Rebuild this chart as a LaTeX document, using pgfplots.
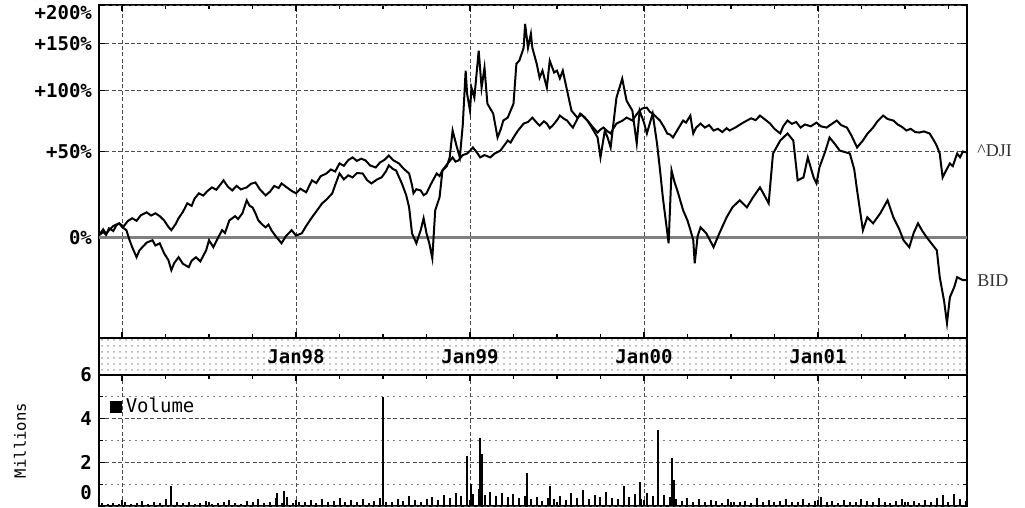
\documentclass[border=0pt]{standalone}
\usepackage{fontspec}
\setmonofont{DejaVu Sans Mono}
\newfontfamily\labelfont{Liberation Serif}
\usepackage{pgfplots}
\pgfplotsset{compat=1.18}
\usetikzlibrary{patterns}

% x = months since Jan 1997, top panel y = % change (log scale of 1+r)
\pgfplotsset{
  panel/.style={
    scale only axis, width=434pt,
    xmin=-1.59, xmax=58.28,
    axis line style={line width=0.8pt},
    tick align=inside,
    major tick length=3pt, minor tick length=2pt,
    tick style={black, line width=0.6pt},
    xtick={0,12,24,36,48},
    minor xtick={3,6,9,15,18,21,27,30,33,39,42,45,51,54,57},
    ticklabel style={font=\ttfamily\bfseries\fontsize{9.5}{10}\selectfont,
      /pgf/number format/assume math mode=true},
    major grid style={black!70, line width=0.4pt, dash pattern=on 2pt off 1.2pt},
    minor grid style={black!50, line width=0.4pt, dash pattern=on 1pt off 2pt},
  }
}

\begin{document}
\begin{tikzpicture}
\path[use as bounding box] (0,0) rectangle (512.5pt,254pt);

\begin{axis}[panel, name=top, at={(49.5pt,251.5pt)}, anchor=north west,
  height=166.5pt, clip=false,
  ymode=log, ymin=0.621, ymax=3,
  ytick={1,1.5,2,2.5},
  yticklabels={0\%,+50\%,+100\%,+150\%},
  minor y tick style={draw=none},
  extra y ticks={3}, extra y tick labels={+200\%},
  extra y tick style={yticklabel style={yshift=-4pt}},
  xticklabels={},
  xmajorgrids, ymajorgrids,
]
% 0% baseline
\addplot[black!50, line width=1.6pt] coordinates {(-1.59,1) (58.28,1)};
% ^DJI
\addplot[black, line width=1pt] table[x index=0, y expr={1+\thisrowno{1}/100}] {
-1.6 0.9
-1.3 2.5
-1.1 1.2
-0.9 4.3
-0.6 3.0
-0.4 5.8
-0.2 6.8
0.1 5.2
0.4 8.0
0.7 9.4
1.0 8.1
1.3 11.0
1.7 12.5
2.0 10.8
2.3 12.0
2.6 10.5
2.9 8.3
3.2 5.0
3.4 3.4
3.7 6.5
3.9 9.4
4.2 12.8
4.5 17.4
4.8 16.0
5.0 20.0
5.3 23.1
5.6 21.8
5.9 24.5
6.2 26.6
6.5 25.2
6.8 28.5
7.0 30.9
7.3 27.0
7.6 24.8
7.9 27.5
8.2 25.4
8.6 26.6
8.9 28.8
9.2 29.6
9.5 25.5
9.9 21.9
10.2 24.0
10.5 27.5
10.8 26.2
11.0 29.0
11.3 27.0
11.7 24.5
12.0 23.1
12.3 25.8
12.7 23.7
13.1 30.9
13.4 29.2
13.7 33.5
14.1 35.2
14.4 37.8
14.7 36.5
15.0 41.8
15.3 40.2
15.6 44.0
15.9 45.9
16.2 43.5
16.5 45.0
16.8 43.8
17.1 40.5
17.5 39.1
17.8 42.5
18.1 44.2
18.4 47.2
18.7 44.0
19.1 41.8
19.4 38.5
19.8 35.2
20.0 28.0
20.1 23.1
20.3 25.5
20.6 24.8
20.8 22.0
21.0 23.1
21.3 28.5
21.7 35.2
21.9 33.6
22.1 37.2
22.4 41.0
22.8 45.9
23.0 43.0
23.2 43.8
23.5 47.5
23.8 48.6
24.0 50.5
24.2 52.9
24.5 49.0
24.7 45.9
25.0 47.5
25.4 45.9
25.7 48.6
26.1 50.7
26.4 55.0
26.6 58.0
26.8 56.5
27.0 60.3
27.3 65.5
27.7 71.2
28.0 72.5
28.3 76.1
28.6 72.0
28.8 69.6
29.1 73.0
29.3 71.2
29.5 67.5
29.7 69.6
30.0 74.0
30.2 77.8
30.5 75.0
30.7 73.7
30.9 70.5
31.1 68.0
31.4 75.0
31.6 79.5
31.9 76.5
32.1 73.7
32.5 68.0
32.8 64.1
33.0 66.5
33.2 68.0
33.5 65.0
33.7 63.4
33.9 67.5
34.1 71.2
34.5 73.5
34.8 76.1
35.0 75.0
35.2 73.7
35.5 79.0
35.7 82.0
35.9 84.0
36.2 84.6
36.4 81.0
36.6 79.5
36.9 76.0
37.1 73.7
37.4 68.0
37.6 63.4
37.8 62.5
38.0 60.3
38.3 66.0
38.7 73.7
38.9 72.0
39.2 77.8
39.3 70.0
39.4 63.4
39.6 68.0
39.9 71.2
40.2 68.0
40.5 70.0
40.8 65.7
41.1 67.0
41.4 64.5
41.7 67.5
41.9 65.7
42.3 68.0
42.7 71.0
43.1 73.7
43.4 75.5
43.7 74.0
44.0 77.8
44.3 75.0
44.7 71.2
45.0 67.0
45.4 63.4
45.6 69.0
45.9 73.7
46.2 71.0
46.5 72.5
46.8 68.0
47.1 70.5
47.5 69.0
47.9 72.0
48.2 69.0
48.6 68.0
48.9 70.5
49.3 73.7
49.6 70.0
50.0 68.0
50.3 62.0
50.7 52.9
50.9 55.5
51.1 58.0
51.4 63.0
51.8 68.0
52.1 73.0
52.5 77.8
52.8 75.0
53.2 73.7
53.5 70.5
53.8 68.5
54.1 65.7
54.4 67.0
54.7 64.5
55.0 64.1
55.3 65.0
55.7 63.4
56.0 58.0
56.2 54.0
56.4 48.6
56.6 32.7
56.8 36.5
57.1 41.8
57.3 40.0
57.6 48.6
57.8 46.0
58.0 50.0
58.28 49.3
};
% BID
\addplot[black, line width=1pt] table[x index=0, y expr={1+\thisrowno{1}/100}] {
-1.6 0.9
-1.3 3.8
-1.1 1.5
-0.9 3.4
-0.6 5.5
-0.2 6.8
0.0 5.0
0.3 3.4
0.5 -1.0
0.7 -4.6
1.0 -9.0
1.2 -6.0
1.4 -4.6
1.7 -2.5
2.1 -1.4
2.3 -3.8
2.6 -2.8
2.9 -7.3
3.2 -10.3
3.4 -14.4
3.6 -11.5
3.9 -9.0
4.2 -11.8
4.6 -13.2
4.8 -10.5
5.1 -9.0
5.4 -10.8
5.8 -6.0
6.0 -1.4
6.3 -4.6
6.6 -0.5
6.9 3.4
7.1 2.0
7.4 8.3
7.8 10.5
8.0 9.0
8.3 12.0
8.6 19.1
8.8 16.0
9.0 15.2
9.2 12.0
9.4 8.3
9.7 6.0
9.9 4.8
10.1 6.2
10.3 3.4
10.6 0.5
11.0 -2.8
11.3 0.5
11.7 3.4
12.0 0.8
12.4 1.9
12.7 5.5
13.1 9.9
13.4 13.0
13.8 17.4
14.1 19.5
14.5 23.1
14.7 28.0
15.0 35.2
15.3 31.5
15.6 34.0
15.9 32.7
16.2 35.5
16.6 35.2
16.9 31.0
17.2 29.0
17.6 31.5
17.9 32.7
18.2 36.5
18.4 40.5
18.7 38.0
18.9 37.2
19.1 33.0
19.3 29.0
19.6 22.0
19.8 15.2
20.0 1.9
20.3 -2.8
20.6 3.4
20.8 9.4
21.0 1.9
21.2 -3.0
21.4 -9.5
21.6 13.6
21.9 20.8
22.1 37.2
22.4 40.0
22.6 45.9
22.8 65.7
23.1 52.9
23.3 45.9
23.5 70.0
23.7 119.9
23.8 97.2
24.0 82.0
24.1 102.9
24.3 93.5
24.6 141.6
24.8 102.9
25.0 123.0
25.2 88.1
25.6 79.5
25.9 60.3
26.1 66.0
26.3 73.7
26.6 76.1
27.0 88.1
27.2 127.2
27.4 130.5
27.7 145.0
27.8 174.4
28.0 145.0
28.2 161.8
28.3 145.0
28.6 127.2
28.8 112.7
29.0 119.9
29.3 102.9
29.5 130.5
29.8 118.0
30.0 119.9
30.2 112.0
30.4 119.9
30.7 100.0
31.0 82.0
31.4 76.1
31.7 78.5
32.1 73.7
32.4 68.0
32.8 60.3
33.0 45.9
33.3 65.7
33.5 60.0
33.7 52.9
34.1 93.5
34.5 111.7
34.8 90.8
35.2 82.0
35.5 55.8
35.7 82.0
36.0 72.0
36.2 63.4
36.6 79.5
36.9 55.8
37.1 38.0
37.3 20.8
37.7 -2.8
37.9 37.2
38.1 30.0
38.3 24.8
38.7 13.6
39.0 8.3
39.2 3.5
39.4 -1.4
39.5 -11.6
39.7 0.5
39.9 4.8
40.3 1.9
40.8 -4.6
41.2 1.9
41.7 9.9
42.1 15.2
42.6 19.1
43.1 15.2
43.5 20.5
44.0 26.6
44.3 22.0
44.6 17.4
44.9 48.6
45.4 58.0
45.9 63.4
46.3 58.0
46.6 30.9
47.0 32.7
47.3 45.9
47.7 32.7
47.9 29.0
48.1 39.1
48.5 50.0
48.8 60.3
49.2 55.0
49.5 50.7
50.2 48.6
50.5 38.0
50.7 24.8
51.1 3.4
51.4 9.9
51.8 6.8
52.3 12.0
52.8 19.1
53.2 9.9
53.6 4.0
53.9 -1.4
54.3 -4.6
54.6 2.0
54.9 6.8
55.2 3.0
55.5 0.0
55.9 -3.5
56.2 -6.0
56.4 -17.2
56.7 -26.0
56.9 -33.4
57.1 -24.7
57.4 -21.0
57.6 -17.2
58.0 -18.4
58.28 -18.4
};
\node[font=\labelfont\fontsize{9}{9}\selectfont, text=black!80, anchor=west, inner sep=0pt, xshift=5pt]
  at (axis cs:58.28,1.507) {\textasciicircum DJI};
\node[font=\labelfont\fontsize{9}{9}\selectfont, text=black!80, anchor=west, inner sep=0pt, xshift=5pt]
  at (axis cs:58.28,0.816) {BID};
\end{axis}

\begin{axis}[panel, name=strip, at={(49.5pt,85pt)}, anchor=north west,
  height=18.5pt,
  ymin=0, ymax=1, ytick=\empty,
  xtick={12,24,36,48}, xticklabels={Jan98,Jan99,Jan00,Jan01},
  major tick length=0pt, minor tick length=0pt,
  xticklabel style={anchor=center, yshift=9.25pt},
  axis background/.style={pattern=dots, pattern color=black!35},
]
\end{axis}

\begin{axis}[panel, name=vol, at={(49.5pt,66.5pt)}, anchor=north west,
  height=65.5pt,
  ymin=0, ymax=6, ytick={2,4,6}, minor ytick={1,3,5},
  extra y ticks={0}, extra y tick labels={0},
  extra y tick style={yticklabel style={yshift=6.5pt}},
  xticklabels={},
  xmajorgrids, ymajorgrids, yminorgrids,
  ylabel={Millions},
  ylabel style={at={(axis description cs:-0.091,0.5)}, anchor=center,
    font=\ttfamily\fontsize{7.8}{9}\selectfont},
  legend style={at={(0.012,0.86)}, anchor=north west, draw=none, fill=none,
    inner sep=0pt, font=\ttfamily\fontsize{9.5}{10}\selectfont},
  legend image code/.code={\fill[black] (0pt,-2.5pt) rectangle (5pt,2.5pt);},
]
\addplot[ycomb, black, line width=1pt] table[x index=0, y index=1] {
-1.4 0.12
-1.0 0.08
-0.6 0.15
-0.2 0.10
0.2 0.18
0.6 0.09
1.0 0.14
1.4 0.22
1.8 0.11
2.2 0.16
2.6 0.13
3.0 0.30
3.4 0.10
3.8 0.17
4.2 0.12
4.6 0.20
5.0 0.09
5.4 0.15
5.8 0.25
6.2 0.11
6.6 0.14
7.0 0.18
7.4 0.28
7.8 0.12
8.2 0.10
8.6 0.22
9.0 0.16
9.4 0.30
9.8 0.13
10.2 0.19
10.6 0.35
11.0 0.15
11.4 0.40
11.8 0.12
12.2 0.20
12.6 0.18
13.0 0.26
13.4 0.14
13.8 0.30
14.2 0.17
14.6 0.22
15.0 0.35
15.4 0.16
15.8 0.28
16.2 0.19
16.6 0.32
17.0 0.15
17.4 0.24
17.8 0.38
18.2 0.20
18.6 0.18
19.0 0.30
19.4 0.22
19.8 0.45
20.2 0.26
20.6 0.19
21.0 0.33
21.4 0.40
21.8 0.28
22.2 0.50
22.6 0.35
23.0 0.60
23.4 0.45
23.8 0.70
24.2 0.55
24.6 0.80
25.0 0.50
25.4 0.65
25.8 0.45
26.2 0.60
26.6 0.40
27.0 0.55
27.4 0.35
27.8 0.48
28.2 0.30
28.6 0.42
29.0 0.25
29.4 0.38
29.8 0.30
30.2 0.45
30.6 0.28
31.0 0.60
31.4 0.35
31.8 0.75
32.2 0.30
32.6 0.50
33.0 0.42
33.4 0.65
33.8 0.35
34.2 0.30
34.6 0.25
35.0 0.40
35.4 0.55
35.8 0.30
36.2 0.60
36.6 0.45
37.0 0.35
37.4 0.50
37.8 0.40
38.2 0.30
38.6 0.25
39.0 0.35
39.4 0.20
39.8 0.30
40.2 0.18
40.6 0.28
41.0 0.22
41.4 0.15
41.8 0.30
42.2 0.20
42.6 0.18
43.0 0.25
43.4 0.15
43.8 0.35
44.2 0.20
44.6 0.28
45.0 0.16
45.4 0.22
45.8 0.30
46.2 0.18
46.6 0.20
47.0 0.32
47.4 0.15
47.8 0.25
48.2 0.40
48.6 0.18
49.0 0.22
49.4 0.15
49.8 0.28
50.2 0.20
50.6 0.16
51.0 0.30
51.4 0.22
51.8 0.18
52.2 0.35
52.6 0.20
53.0 0.15
53.4 0.25
53.8 0.30
54.2 0.18
54.6 0.22
55.0 0.15
55.4 0.28
55.8 0.20
56.2 0.35
56.6 0.25
57.0 0.18
57.4 0.55
57.8 0.30
58.2 0.22
};
\addlegendentry{Volume}
\addplot[ycomb, black, line width=1pt, forget plot] coordinates {
(3.4,0.9) (10.7,0.6) (11.2,0.7) (18.0,5.0) (23.8,2.3) (24.1,1.0)
(24.7,3.1) (24.85,2.4) (27.9,1.5) (29.5,0.9) (34.6,0.9) (35.7,1.1)
(37.0,3.5) (37.9,2.2) (38.1,1.2) (56.6,0.5)
};
\end{axis}
\end{tikzpicture}
\end{document}
